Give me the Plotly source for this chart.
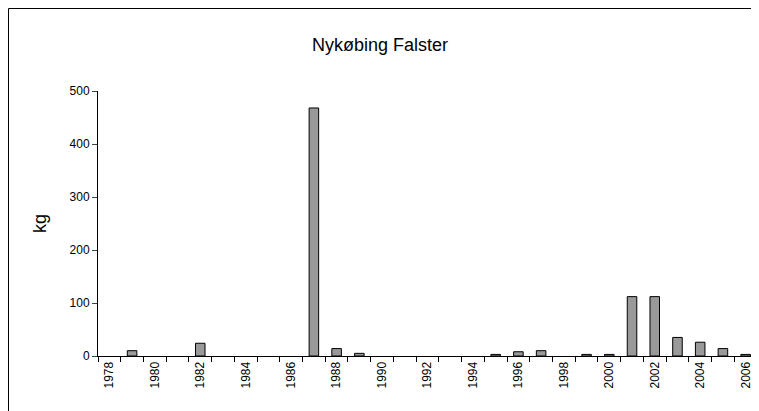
import plotly.graph_objects as go

years = list(range(1978, 2007))
kg = [None, 10, None, None, 24, None, None, None, None, 468, 14, 5, None, None, None, None,
      None, 3, 8, 10, None, 3, 3, 112, 112, 35, 26, 14, 3]
tick_years = list(range(1978, 2007, 2))

W, H = 751, 403
L, R, T, B = 90, 2, 83, 55
pw, ph = W - L - R, H - T - B

fig = go.Figure()
fig.add_trace(go.Bar(x=years, y=kg, width=0.42,
                     marker=dict(color="#999999", line=dict(color="black", width=1))))

fig.update_layout(
    width=W, height=H, margin=dict(l=L, r=R, t=T, b=B),
    paper_bgcolor="white", plot_bgcolor="white", showlegend=False,
    font=dict(family="Liberation Sans, Arial", color="black", size=12),
    title=dict(text="Nykøbing Falster", x=372 / W, xanchor="center",
               y=1 - 37 / H, yanchor="middle", font=dict(size=18)),
    shapes=[dict(type="rect", xref="paper", yref="paper", x0=-(L - 0.5) / pw, x1=1 + (R - 1) / pw,
                 y0=-(B + 10) / ph, y1=1 + (T - 0.5) / ph, line=dict(color="black", width=1)),
            dict(type="line", xref="paper", yref="paper", x0=1, x1=1, y0=0, y1=1,
                 line=dict(color="black", width=1))],
)
fig.update_xaxes(range=[1977.5, 2006.5], tickvals=tick_years, ticks="",
                 tickangle=-90, showline=True, linecolor="black", showgrid=False,
                 minor=dict(tickvals=[y + 0.5 for y in range(1977, 2007)],
                            ticks="outside", ticklen=5, tickcolor="black"))
fig.update_yaxes(range=[0, 500], dtick=100, ticks="outside", ticklen=5,
                 showline=True, linecolor="black", showgrid=False, zeroline=False,
                 title=dict(text="kg", font=dict(size=18), standoff=18))

fig.write_html("out.html")
